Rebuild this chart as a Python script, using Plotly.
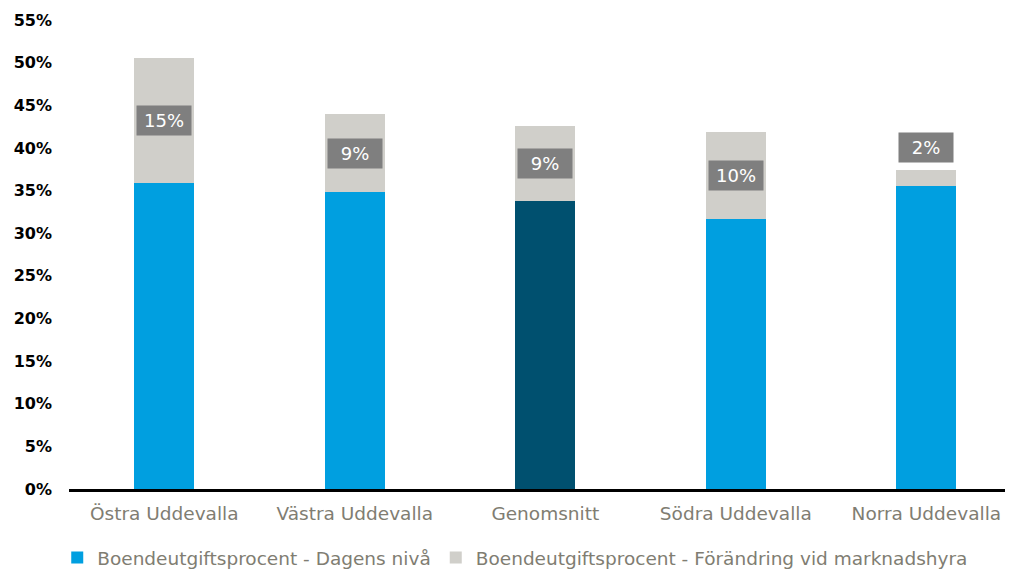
import plotly.graph_objects as go

categories = ["Östra Uddevalla", "Västra Uddevalla", "Genomsnitt", "Södra Uddevalla", "Norra Uddevalla"]
dagens_niva = [35.9, 34.8, 33.8, 31.7, 35.5]
forandring = [14.7, 9.2, 8.8, 10.2, 1.9]
labels = ["15%", "9%", "9%", "10%", "2%"]

blue_colors = ["#009fe0", "#009fe0", "#00506f", "#009fe0", "#009fe0"]

fig = go.Figure()

fig.add_trace(go.Bar(
    x=categories,
    y=dagens_niva,
    name="Boendeutgiftsprocent - Dagens nivå",
    marker=dict(color=blue_colors, line=dict(width=0)),
    hoverinfo="x+y",
))

fig.add_trace(go.Bar(
    x=categories,
    y=forandring,
    name="Boendeutgiftsprocent - Förändring vid marknadshyra",
    marker=dict(color="#d0cfca", line=dict(width=0)),
    hoverinfo="x+y",
))

# value labels in grey boxes
for cat, base, diff, lab in zip(categories, dagens_niva, forandring, labels):
    if diff < 5:
        y, shift = base + diff, 23
    else:
        y, shift = base + diff / 2, 0
    fig.add_annotation(
        x=cat, y=y, yshift=shift,
        text=lab,
        showarrow=False,
        font=dict(family="DejaVu Sans", size=18, color="white"),
        bgcolor="#7f7f7f",
        borderpad=4,
        width=46,
    )

# page body has an 8px margin, so the figure is sized 8px smaller
fig.update_layout(
    barmode="stack",
    bargap=0.685,
    width=1005,
    height=564,
    paper_bgcolor="white",
    plot_bgcolor="white",
    margin=dict(l=61, r=0, t=12, b=83, autoexpand=False),
    font=dict(family="DejaVu Sans", size=18, color="#807d72"),
    legend=dict(
        orientation="h",
        x=0.049, xanchor="left",
        xref="container",
        y=0.025, yanchor="middle",
        yref="container",
        font=dict(family="DejaVu Sans", size=18.5, color="#807d72"),
        itemwidth=30,
        traceorder="normal",
    ),
    showlegend=True,
)

fig.update_yaxes(
    range=[0, 55],
    tickvals=list(range(0, 56, 5)),
    ticktext=[f"{v}%" for v in range(0, 56, 5)],
    showgrid=False,
    zeroline=False,
    showline=False,
    ticks="",
    automargin=False,
    ticklabelstandoff=16,
    tickfont=dict(family="DejaVu Sans", size=16, color="black", weight="bold"),
)

fig.update_xaxes(
    range=[-0.5, 4.455],
    showgrid=False,
    showline=True,
    linecolor="black",
    linewidth=3,
    ticks="",
    automargin=False,
    ticklabelstandoff=6,
    tickfont=dict(family="DejaVu Sans", size=18.5, color="#807d72"),
)

fig.write_html("out.html")
